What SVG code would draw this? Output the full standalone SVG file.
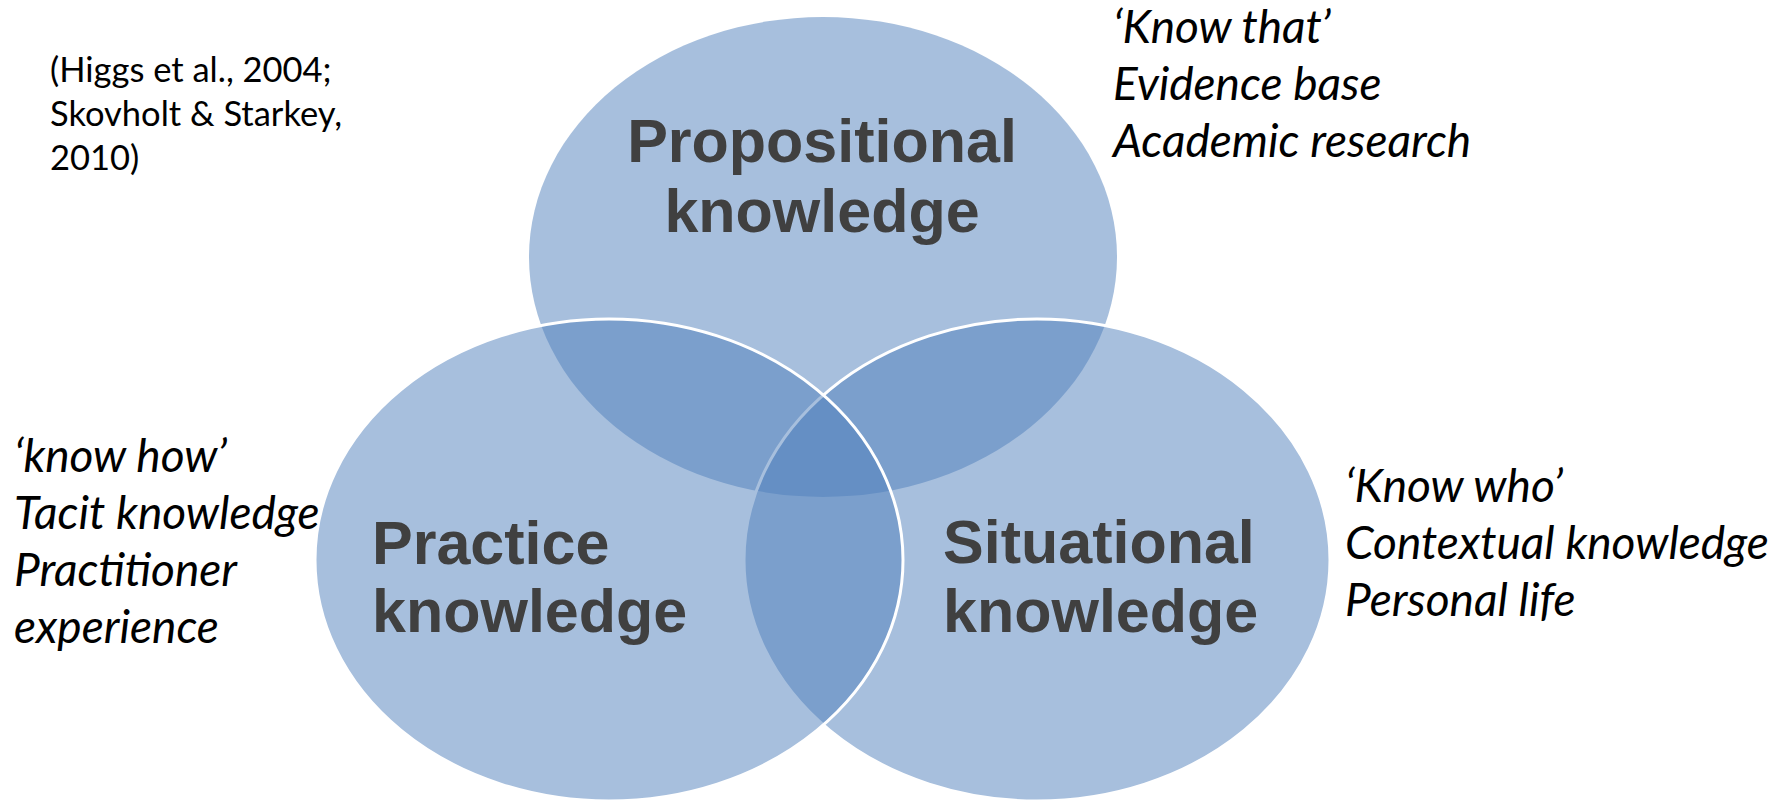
<svg xmlns="http://www.w3.org/2000/svg" width="1789" height="801" viewBox="0 0 1789 801">
<style>
.c{fill:#4F7FBC;fill-opacity:0.5}
.s{stroke:#FFFFFF;stroke-width:3}
.t{font-family:"Liberation Sans",Arial,sans-serif;font-weight:bold;font-size:61px;fill:#404040}
.n{font-family:Lato,"Open Sans",sans-serif;font-style:italic;font-size:46px;fill:#000}
.r{font-family:Lato,"Open Sans",sans-serif;font-size:34.5px;fill:#000}
</style>
<rect width="1789" height="801" fill="#FFFFFF"/>
<g id="circles">
<g id="propositional"><ellipse class="c" cx="823" cy="257" rx="294" ry="240"/></g>
<g id="situational"><ellipse class="c s" cx="1037" cy="560" rx="293" ry="241"/></g>
<g id="practice"><ellipse class="c s" cx="609" cy="560" rx="294" ry="241"/></g>
</g>
<g id="labels">
<text class="t" x="822" y="162" text-anchor="middle">Propositional</text>
<text class="t" x="822" y="232" text-anchor="middle">knowledge</text>
<text class="t" x="372" y="564">Practice</text>
<text class="t" x="372" y="632">knowledge</text>
<text class="t" x="943" y="563">Situational</text>
<text class="t" x="943" y="632">knowledge</text>
</g>
<g id="notes">
<text class="r" x="50" y="82">(Higgs et al., 2004;</text>
<text class="r" x="50" y="126">Skovholt &amp; Starkey,</text>
<text class="r" x="50" y="170">2010)</text>
<text class="n" x="1113" y="43">‘Know that’</text>
<text class="n" x="1113" y="100">Evidence base</text>
<text class="n" x="1113" y="157">Academic research</text>
<text class="n" x="14" y="472">‘know how’</text>
<text class="n" x="14" y="529">Tacit knowledge</text>
<text class="n" x="14" y="586">Practitioner</text>
<text class="n" x="14" y="643">experience</text>
<text class="n" x="1345" y="502">‘Know who’</text>
<text class="n" x="1345" y="559">Contextual knowledge</text>
<text class="n" x="1345" y="616">Personal life</text>
</g>
</svg>
